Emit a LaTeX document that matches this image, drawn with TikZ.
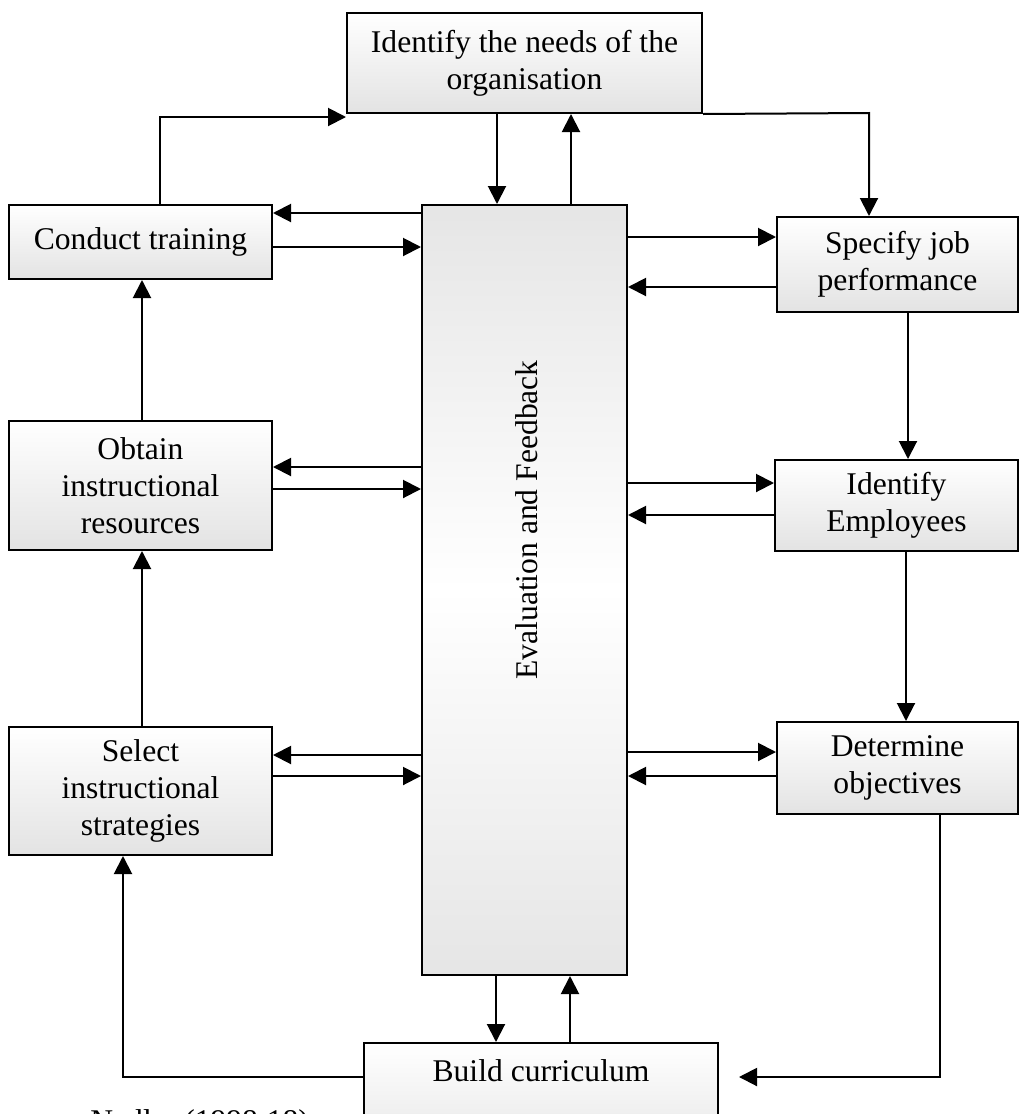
\documentclass[tikz,border=0pt]{standalone}
\usepackage{fontspec}
\setmainfont{Liberation Serif}
\usetikzlibrary{arrows.meta,calc}
\begin{document}
\begin{tikzpicture}[x=0.5pt,y=-0.5pt,
  every node/.style={font=\fontsize{15.8}{18.5}\selectfont},
  box/.style={draw, line width=1pt, align=center, inner sep=2pt,
    top color=white, bottom color=gray!22},
  arr/.style={-{Triangle[length=9pt,width=9pt]}, line width=1pt}]
\useasboundingbox (0,0) rectangle (1019,1114);
\clip (0,0) rectangle (1019,1114);

% boxes
\node[box, minimum width=177.5pt, minimum height=50pt] (top) at (524.5,63)
  {Identify the needs of the\\organisation};
\node[box, minimum width=102.5pt, minimum height=385pt,
  top color=gray!20, bottom color=gray!20, middle color=white] (cen) at (524.5,590) {};
\node[rotate=90, inner sep=0pt] (evtxt) at (527,520) {Evaluation and Feedback};
\node[box, minimum width=131.5pt, minimum height=37pt] (ct) at (140.5,242)
  {Conduct training};
\node[box, minimum width=131.5pt, minimum height=64.5pt] (ob) at (140.5,485.5)
  {Obtain\\instructional\\resources};
\node[box, minimum width=131.5pt, minimum height=64pt] (se) at (140.5,791)
  {Select\\instructional\\strategies};
\node[box, minimum width=120.5pt, minimum height=47.5pt] (sjp) at (897.5,264.5)
  {Specify job\\performance};
\node[box, minimum width=121.5pt, minimum height=45.5pt] (ie) at (896.5,505.5)
  {Identify\\Employees};
\node[box, minimum width=120.5pt, minimum height=46pt] (do) at (897.5,768)
  {Determine\\objectives};
\node[box, minimum width=177pt, inner ysep=4pt, text height=15pt, text depth=40pt,
  anchor=north] (bc) at (541,1042) {Build curriculum};
\node[anchor=west, inner sep=0pt] (src) at (90,1124) {Nadler (1998:18)};

% connectors between the needs box and the outer loop
\coordinate (ctup) at (160,117);
\draw[arr] (ct.north -| ctup) -- (ctup) -- (top.south west |- ctup);
\coordinate (sjpin) at (869,113);
\draw[arr] (top.south east) -- (sjpin) -- (sjp.north -| sjpin);

% needs box <-> evaluation
\draw[arr] (top.south -| 497,0) -- (cen.north -| 497,0);
\draw[arr] (cen.north -| 571,0) -- (top.south -| 571,0);

% evaluation <-> left column
\draw[arr] (cen.west |- 0,213) -- (ct.east |- 0,213);
\draw[arr] (ct.east |- 0,247) -- (cen.west |- 0,247);
\draw[arr] (cen.west |- 0,467) -- (ob.east |- 0,467);
\draw[arr] (ob.east |- 0,489) -- (cen.west |- 0,489);
\draw[arr] (cen.west |- 0,755) -- (se.east |- 0,755);
\draw[arr] (se.east |- 0,776) -- (cen.west |- 0,776);

% evaluation <-> right column
\draw[arr] (cen.east |- 0,237) -- (sjp.west |- 0,237);
\draw[arr] (sjp.west |- 0,287) -- (cen.east |- 0,287);
\draw[arr] (cen.east |- 0,483) -- (ie.west |- 0,483);
\draw[arr] (ie.west |- 0,515) -- (cen.east |- 0,515);
\draw[arr] (cen.east |- 0,752) -- (do.west |- 0,752);
\draw[arr] (do.west |- 0,776) -- (cen.east |- 0,776);

% evaluation <-> build curriculum
\draw[arr] (cen.south -| 496,0) -- (bc.north -| 496,0);
\draw[arr] (bc.north -| 570,0) -- (cen.south -| 570,0);

% outer loop
\draw[arr] (sjp.south -| 908,0) -- (ie.north -| 908,0);
\draw[arr] (ie.south -| 906,0) -- (do.north -| 906,0);
\coordinate (dodown) at (940,1077);
\draw[arr, shorten >=10pt] (do.south -| dodown) -- (dodown) -- (bc.east |- dodown);
\coordinate (bcleft) at (123,1077);
\draw[arr] (bc.west |- bcleft) -- (bcleft) -- (se.south -| bcleft);
\draw[arr] (se.north -| 142,0) -- (ob.south -| 142,0);
\draw[arr] (ob.north -| 142,0) -- (ct.south -| 142,0);
\end{tikzpicture}
\end{document}
